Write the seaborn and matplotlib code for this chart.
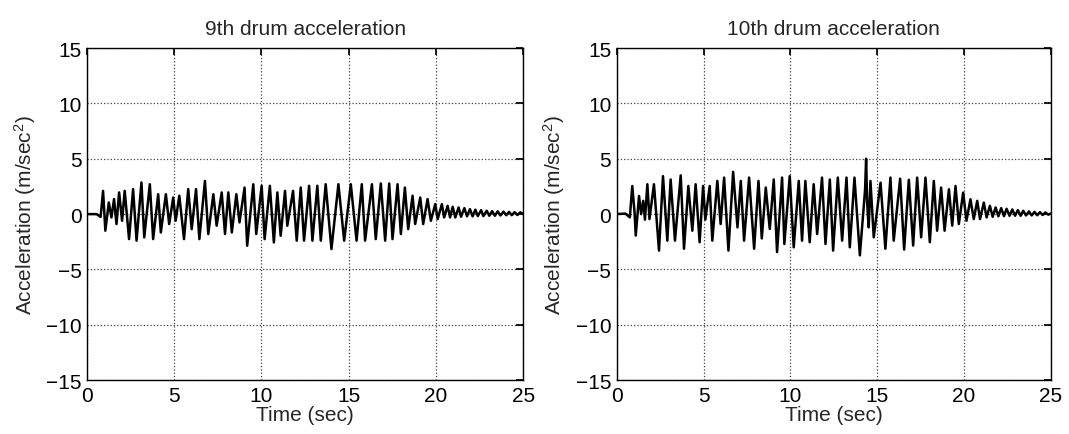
import numpy as np
import pandas as pd
import matplotlib
matplotlib.use("Agg")
import matplotlib.pyplot as plt
import seaborn as sns

# 9th drum: peaks and troughs (time in sec, accel in m/sec^2)
t9 = [0.0, 0.55, 0.78, 0.92, 1.05, 1.25, 1.40, 1.55, 1.69, 1.84, 2.01, 2.16,
      2.41, 2.64, 2.84, 3.12, 3.28, 3.60, 3.79, 4.08, 4.23, 4.52, 4.71, 4.94,
      5.08, 5.29, 5.56, 5.80, 6.00, 6.25, 6.44, 6.76, 6.95, 7.24, 7.43, 7.72,
      7.91, 8.10, 8.30, 8.56, 8.74, 9.03, 9.18, 9.53, 9.70, 10.01, 10.18, 10.48,
      10.71, 10.91, 11.10, 11.35, 11.48, 11.81, 12.02, 12.25, 12.44, 12.73, 12.92,
      13.20, 13.40, 13.68, 14.01, 14.41, 14.74, 15.12, 15.45, 15.75, 15.94, 16.33,
      16.55, 16.84, 17.09, 17.32, 17.51, 17.80, 17.99, 18.22, 18.41, 18.66, 18.81,
      19.10, 19.27, 19.52, 19.71, 19.96, 20.10, 20.34, 20.47, 20.67, 20.81, 20.96,
      21.11, 21.30, 21.44, 21.63, 21.78, 21.95, 22.10, 22.26, 22.40, 22.59, 22.72,
      22.91, 23.06, 23.22, 23.38, 23.54, 23.70, 23.87, 24.03, 24.19, 24.35, 24.51,
      24.67, 24.83, 25.0]
a9 = [0.0, 0.0, -0.25, 2.1, -1.5, 1.05, -0.3, 1.36, -0.9, 1.96, -0.6, 2.1,
      -2.26, 2.26, -2.4, 2.86, -2.1, 2.7, -2.26, 1.8, -1.66, 1.8, -0.9, 1.5,
      -0.6, 1.66, -2.26, 2.26, -1.36, 2.26, -2.26, 3.0, -1.8, 1.8, -1.05, 1.96,
      -1.8, 1.96, -1.66, 1.8, -0.75, 2.4, -2.86, 2.7, -1.8, 2.56, -2.26, 2.56,
      -2.56, 1.96, -1.96, 2.1, -1.05, 2.1, -2.4, 2.4, -2.4, 2.56, -2.4,
      2.56, -2.4, 2.7, -3.16, 2.7, -2.4, 2.7, -2.4, 2.7, -2.4, 2.7,
      -2.26, 2.77, -2.4, 2.77, -2.26, 2.7, -1.8, 2.4, -1.36, 1.66, -0.9,
      1.5, -0.9, 1.36, -0.6, 0.9, -0.45, 0.9, -0.3, 0.75, -0.3, 0.66,
      -0.3, 0.6, -0.24, 0.54, -0.2, 0.45, -0.2, 0.4, -0.18, 0.36, -0.18,
      0.3, -0.15, 0.27, -0.15, 0.25, -0.12, 0.22, -0.1, 0.2, -0.1, 0.18,
      -0.08, 0.16, 0.0]

# 10th drum
t10 = [0.0, 0.5, 0.75, 0.89, 1.02, 1.09, 1.28, 1.40, 1.52, 1.62, 1.76, 1.88,
       2.14, 2.43, 2.66, 2.91, 3.10, 3.35, 3.68, 3.87, 4.12, 4.35, 4.54, 4.77,
       4.97, 5.10, 5.35, 5.50, 5.79, 5.98, 6.18, 6.43, 6.70, 6.95, 7.14, 7.33,
       7.62, 7.91, 8.16, 8.35, 8.58, 8.81, 9.04, 9.23, 9.52, 9.65, 9.96, 10.19,
       10.48, 10.67, 10.86, 11.11, 11.34, 11.54, 11.82, 12.02, 12.27, 12.46, 12.73,
       12.98, 13.23, 13.42, 13.69, 14.00, 14.30, 14.36, 14.42, 14.51, 14.61, 14.80,
       15.19, 15.47, 15.76, 15.95, 16.32, 16.55, 16.82, 17.07, 17.30, 17.53, 17.78,
       18.03, 18.26, 18.45, 18.68, 18.88, 19.13, 19.32, 19.51, 19.70, 19.95, 20.14,
       20.37, 20.56, 20.76, 20.92, 21.14, 21.30, 21.49, 21.65, 21.82, 21.98, 22.14,
       22.30, 22.45, 22.62, 22.78, 22.94, 23.10, 23.26, 23.41, 23.57, 23.74, 23.90,
       24.06, 24.22, 24.37, 24.53, 24.69, 24.85, 25.0]
a10 = [0.0, 0.05, -0.3, 2.54, 0.2, -1.94, 1.64, 0.0, 1.2, -0.5, 2.7, -0.45,
       2.7, -3.3, 3.43, -2.4, 3.13, -2.4, 3.5, -3.13, 2.54, -1.5, 2.7, -2.54,
       2.54, -0.5, 2.54, -2.4, 3.0, -0.9, 3.3, -3.3, 3.82, -1.2, 3.0, -2.4,
       3.3, -3.13, 3.0, -2.2, 2.4, -1.34, 3.13, -3.43, 3.3, -2.7, 3.43, -3.0,
       3.0, -2.4, 3.0, -2.54, 2.7, -1.8, 3.3, -2.7, 3.13, -3.3, 3.3,
       -2.4, 3.3, -3.0, 3.3, -3.73, 2.2, 5.0, 1.0, -1.2, 3.0, -2.1,
       2.84, -3.13, 3.3, -2.4, 3.2, -3.2, 3.1, -2.84, 3.3, -2.1, 3.3,
       -2.54, 3.0, -1.5, 2.4, -1.5, 2.24, -1.04, 2.54, -0.9, 1.94, -0.6,
       1.34, -0.45, 1.2, -0.45, 1.04, -0.3, 0.75, -0.24, 0.6, -0.2, 0.54,
       -0.18, 0.48, -0.15, 0.42, -0.15, 0.36, -0.15, 0.3, -0.12, 0.24, -0.12,
       0.2, -0.1, 0.18, -0.08, 0.15, -0.05, 0.05]

titles = ["9th drum acceleration", "10th drum acceleration"]

df9 = pd.DataFrame({"t": t9, "a": a9})
df10 = pd.DataFrame({"t": t10, "a": a10})

sns.set_theme(style="white")
plt.rcParams["font.family"] = ["Liberation Sans", "DejaVu Sans"]
plt.rcParams["mathtext.fontset"] = "custom"
plt.rcParams["mathtext.rm"] = "Liberation Sans"
plt.rcParams["mathtext.it"] = "Liberation Sans:italic"

fig = plt.figure(figsize=(10.69, 4.35), dpi=100)
ax1 = fig.add_axes([0.0814, 0.124, 0.408, 0.763])
ax2 = fig.add_axes([0.577, 0.124, 0.406, 0.763])

for ax, df, title in zip([ax1, ax2], [df9, df10], titles):
    sns.lineplot(data=df, x="t", y="a", ax=ax, color="black", linewidth=1.8,
                 estimator=None, sort=False)
    ax.set_xlim(0, 25)
    ax.set_ylim(-15, 15)
    ax.set_xticks(range(0, 26, 5))
    ax.set_yticks(range(-15, 16, 5))
    ax.grid(True, linestyle=":", color="0.25", linewidth=0.9)
    ax.tick_params(direction="in", length=5, top=True, right=True,
                   labelsize=15, colors="black", pad=4)
    for s in ax.spines.values():
        s.set_color("black")
        s.set_linewidth(1.0)
    ax.set_title(title, fontsize=15, pad=10)
    ax.set_xlabel("Time (sec)", fontsize=15, labelpad=0)
    ax.set_ylabel("Acceleration (m/sec$^2$)", fontsize=15, labelpad=6)

fig.savefig("out.png", dpi=100)
